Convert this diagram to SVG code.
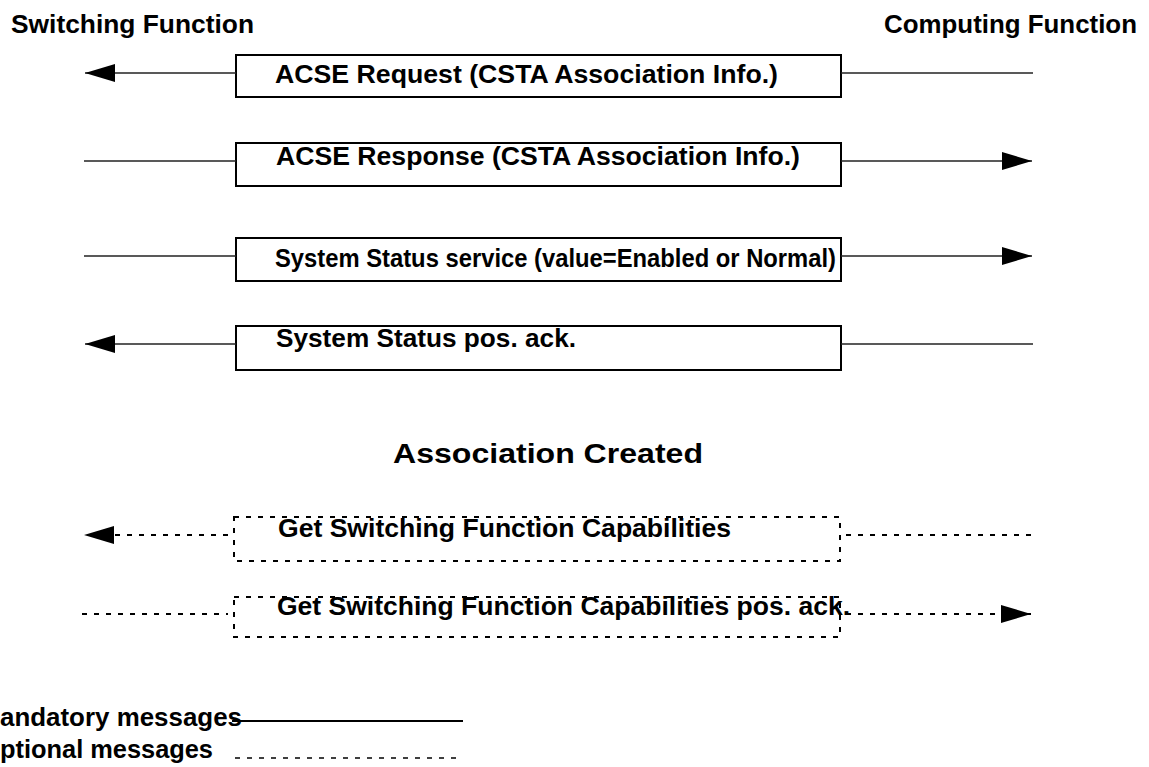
<svg xmlns="http://www.w3.org/2000/svg" width="1149" height="767" viewBox="0 0 1149 767">
<style>
text{font-family:"Liberation Sans",Arial,sans-serif;font-weight:bold;fill:#000}
.h{font-size:26px}
.t{font-size:25px}
.box{fill:none;stroke:#000;stroke-width:2}
.dbox{fill:none;stroke:#000;stroke-width:2;stroke-dasharray:5 7}
.ln{fill:none;stroke:#222;stroke-width:1.4}
.dl{fill:none;stroke:#000;stroke-width:1.8;stroke-dasharray:5 7}
</style>
<defs>
<marker id="ah" markerUnits="userSpaceOnUse" markerWidth="30" markerHeight="18" refX="30" refY="9" orient="auto" viewBox="0 0 30 18">
<path d="M0,0 L30,9 L0,18 z" fill="#000"/>
</marker>
</defs>
<rect width="1149" height="767" fill="#fff"/>
<g id="headings">
<text class="h" x="11" y="33" textLength="243" lengthAdjust="spacingAndGlyphs">Switching Function</text>
<text class="h" x="884" y="33" textLength="253" lengthAdjust="spacingAndGlyphs">Computing Function</text>
<text class="h" x="393" y="463" textLength="310" lengthAdjust="spacingAndGlyphs" style="font-size:28px">Association Created</text>
</g>
<g id="msg1">
<rect class="box" x="236" y="55" width="605" height="42"/>
<text class="t" x="275" y="83" textLength="503" lengthAdjust="spacingAndGlyphs">ACSE Request (CSTA Association Info.)</text>
</g>
<g id="msg2">
<rect class="box" x="236" y="143" width="605" height="43"/>
<text class="t" x="276" y="165" textLength="524" lengthAdjust="spacingAndGlyphs">ACSE Response (CSTA Association Info.)</text>
</g>
<g id="msg3">
<rect class="box" x="236" y="238" width="605" height="43"/>
<text class="t" x="275" y="267" textLength="561" lengthAdjust="spacingAndGlyphs">System Status service (value=Enabled or Normal)</text>
</g>
<g id="msg4">
<rect class="box" x="236" y="326" width="605" height="44"/>
<text class="t" x="276" y="347" textLength="300" lengthAdjust="spacingAndGlyphs">System Status pos. ack.</text>
</g>
<g id="msg5">
<rect class="dbox" x="234" y="517" width="606" height="44"/>
<text class="t" x="278" y="537" textLength="453" lengthAdjust="spacingAndGlyphs">Get Switching Function Capabilities</text>
</g>
<g id="msg6">
<rect class="dbox" x="234" y="597" width="606" height="40"/>
<text class="t" x="277" y="615" textLength="573" lengthAdjust="spacingAndGlyphs">Get Switching Function Capabilities pos. ack.</text>
</g>
<g id="connectors">
<line class="ln" x1="236" y1="73" x2="85" y2="73" marker-end="url(#ah)"/>
<line class="ln" x1="841" y1="73" x2="1033" y2="73"/>
<line class="ln" x1="84" y1="161" x2="236" y2="161"/>
<line class="ln" x1="841" y1="161" x2="1032" y2="161" marker-end="url(#ah)"/>
<line class="ln" x1="84" y1="256" x2="236" y2="256"/>
<line class="ln" x1="841" y1="256" x2="1032" y2="256" marker-end="url(#ah)"/>
<line class="ln" x1="236" y1="344" x2="85" y2="344" marker-end="url(#ah)"/>
<line class="ln" x1="841" y1="344" x2="1033" y2="344"/>
<line class="dl" x1="228" y1="535" x2="84" y2="535" marker-end="url(#ah)"/>
<line class="dl" x1="846" y1="535" x2="1033" y2="535"/>
<line class="dl" x1="82" y1="614" x2="228" y2="614"/>
<line class="dl" x1="846" y1="614" x2="1031" y2="614" marker-end="url(#ah)"/>
</g>
<g id="legend">
<text class="t" x="0" y="726" textLength="242" lengthAdjust="spacingAndGlyphs">andatory messages</text>
<text class="t" x="0" y="758" textLength="213" lengthAdjust="spacingAndGlyphs">ptional messages</text>
<line class="ln" x1="232" y1="721" x2="463" y2="721" style="stroke:#000;stroke-width:2"/>
<line class="dl" x1="235" y1="758" x2="463" y2="758" style="stroke-width:1.5"/>
</g>
</svg>
